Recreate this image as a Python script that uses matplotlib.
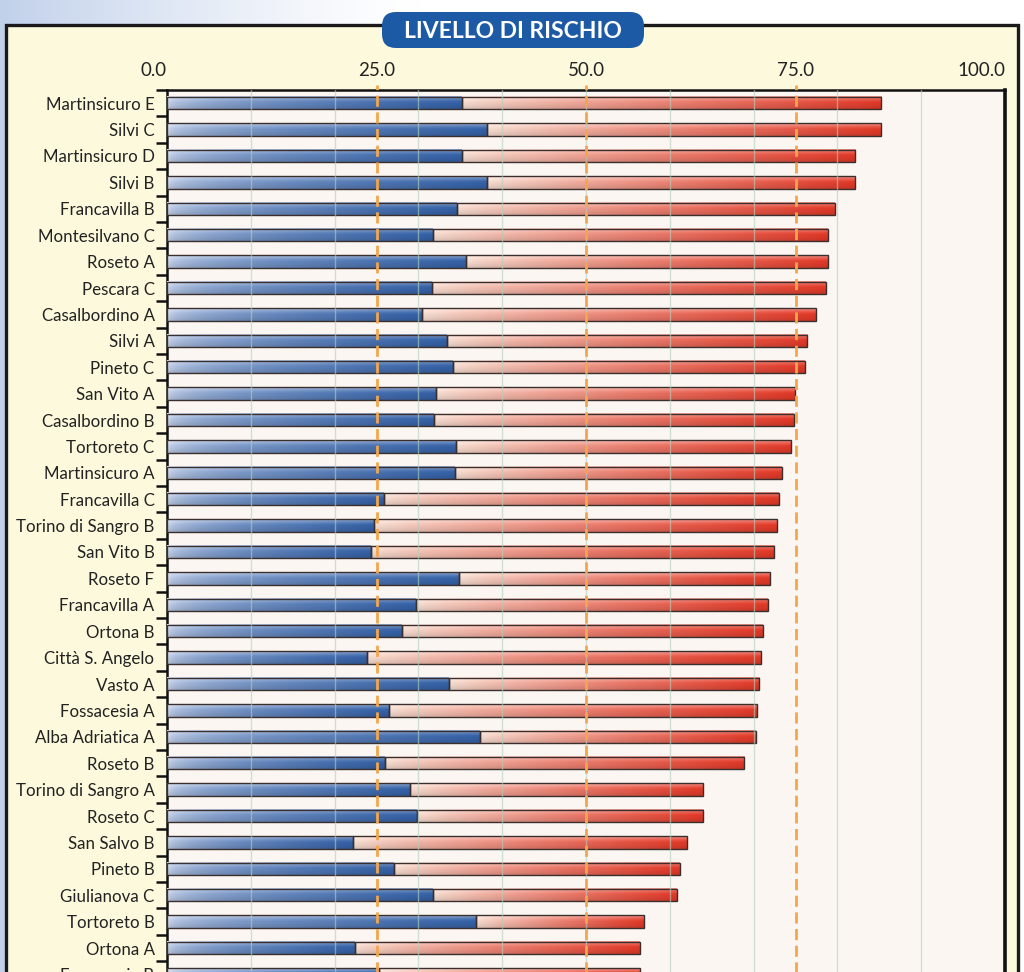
import numpy as np
import matplotlib.pyplot as plt
from matplotlib.patches import Rectangle, FancyBboxPatch

plt.rcParams['font.family'] = ['Lato', 'DejaVu Sans']

# data (blue part = first value, whole bar = total)
labels = ['Martinsicuro E', 'Silvi C', 'Martinsicuro D', 'Silvi B', 'Francavilla B',
          'Montesilvano C', 'Roseto A', 'Pescara C', 'Casalbordino A', 'Silvi A',
          'Pineto C', 'San Vito A', 'Casalbordino B', 'Tortoreto C', 'Martinsicuro A',
          'Francavilla C', 'Torino di Sangro B', 'San Vito B', 'Roseto F', 'Francavilla A',
          'Ortona B', 'Città S. Angelo', 'Vasto A', 'Fossacesia A', 'Alba Adriatica A',
          'Roseto B', 'Torino di Sangro A', 'Roseto C', 'San Salvo B', 'Pineto B',
          'Giulianova C', 'Tortoreto B', 'Ortona A', 'Fossacesia B']
blue = [35.2, 38.2, 35.2, 38.2, 34.6, 31.8, 35.7, 31.6, 30.4, 33.4,
        34.1, 32.1, 31.9, 34.5, 34.4, 25.9, 24.7, 24.3, 34.9, 29.7,
        28.1, 23.9, 33.6, 26.5, 37.4, 26.0, 29.0, 29.8, 22.2, 27.1,
        31.8, 36.9, 22.4, 25.3]
total = [85.2, 85.2, 82.1, 82.1, 79.7, 78.9, 78.9, 78.6, 77.4, 76.4,
         76.1, 74.9, 74.8, 74.5, 73.4, 73.0, 72.8, 72.4, 72.0, 71.7,
         71.1, 70.9, 70.6, 70.4, 70.3, 68.9, 64.0, 64.0, 62.1, 61.2,
         60.8, 56.9, 56.4, 56.4]
xticks = [0, 25, 50, 75, 100]
xticklabels = ['0.0', '25.0', '50.0', '75.0', '100.0']
title = 'LIVELLO DI RISCHIO'


def grad(c0, c1, gamma, nx=120, ny=24):
    t = np.linspace(0, 1, nx) ** gamma
    row = np.array(c0)[None, :] * (1 - t[:, None]) + np.array(c1)[None, :] * t[:, None]
    v = np.linspace(0, 1, ny)
    hi = 0.45 * np.clip(1 - v / 0.5, 0, 1) ** 1.5
    dk = 0.15 * v ** 2
    img = row[None, :, :] * (1 - hi[:, None, None]) + hi[:, None, None]
    img = img * (1 - dk[:, None, None])
    return np.clip(img, 0, 1)


blue_img = grad((0.84, 0.88, 0.96), (0.21, 0.39, 0.67), 0.45)
red_img = grad((0.99, 0.89, 0.84), (0.91, 0.23, 0.16), 0.85)

fig = plt.figure(figsize=(10.24, 9.72), dpi=100)

# page background / panel / banner
bg = fig.add_axes([0, 0, 1, 1], zorder=0)
bg.set_xlim(0, 1024)
bg.set_ylim(972, 0)
bg.axis('off')
w = np.clip(1 - np.linspace(0, 1024, 300) / 420, 0, 1) ** 1.3
page = np.ones((2, 300, 3)) * (1 - w[None, :, None]) + np.array([0.76, 0.82, 0.92]) * w[None, :, None]
bg.imshow(page, extent=(0, 1024, 972, 0), aspect='auto', interpolation='bilinear')
bg.add_patch(Rectangle((6, 25), 1012, 1000, fc='#fdf9dc', ec='#1a1a1a', lw=2.4))
bg.add_patch(FancyBboxPatch((384, 14), 258, 32, boxstyle='round,pad=2,rounding_size=14',
                            fc='#1d5aa5', ec='none'))
bg.text(513, 31, title, color='white', fontsize=16.5, fontweight='bold',
        ha='center', va='center')

# main chart
nview = 35
rowpx = 26.4
top = 1 - 90 / 972
h = nview * rowpx / 972
ax = fig.add_axes([167 / 1024, top - h, (1005 - 167) / 1024, h], zorder=2)
ax.set_facecolor('#fbf6f2')

bh = 0.47
for i, (b, t) in enumerate(zip(blue, total)):
    for x0, x1, img in ((0, b, blue_img), (b, t, red_img)):
        ax.imshow(img, extent=(x0, x1, i + bh / 2, i - bh / 2), aspect='auto',
                  interpolation='bilinear', zorder=3)
        ax.add_patch(Rectangle((x0, i - bh / 2), x1 - x0, bh, fill=False,
                               ec='#3a2f2d', lw=1.0, zorder=4))

for g in range(10, 100, 10):
    ax.axvline(g, color='#b3cfbf', lw=1.0, alpha=0.6, zorder=5)
for v in (25, 50, 75):
    ax.plot([v, v], [nview - 0.5, -0.7], color='#f3a64c', lw=2.0,
            ls=(0, (4, 2)), clip_on=False, zorder=6)

ax.set_xlim(0, 100)
ax.set_ylim(nview - 0.5, -0.5)

ax.xaxis.tick_top()
ax.set_xticks(xticks)
ax.set_xticklabels(xticklabels)
ax.tick_params(axis='x', length=0, pad=8, labelsize=13.5, labelcolor='#222222')
xl = ax.get_xticklabels()
xl[0].set_ha('right')
xl[-1].set_ha('right')

ax.set_yticks(range(len(labels)))
ax.set_yticklabels(labels)
ax.set_yticks(np.arange(-0.5, nview, 1), minor=True)
ax.tick_params(axis='y', which='major', length=0, pad=9, labelsize=12.2,
               labelcolor='#222222')
ax.tick_params(axis='y', which='minor', length=8, width=1.8, color='#111111')

for s in ('left', 'top'):
    ax.spines[s].set_linewidth(1.8)
    ax.spines[s].set_color('#111111')
ax.spines['right'].set_linewidth(2.6)
ax.spines['right'].set_color('#111111')
ax.spines['bottom'].set_visible(False)

fig.savefig('out.png', dpi=100)
